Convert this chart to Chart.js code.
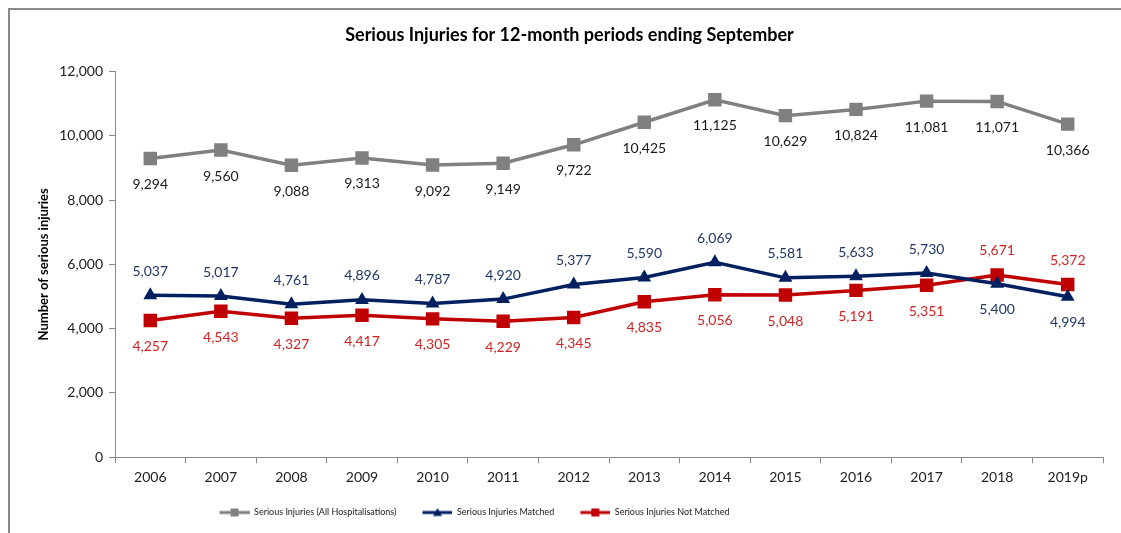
<!DOCTYPE html>
<html>
<head>
<meta charset="utf-8">
<script src="https://cdn.jsdelivr.net/npm/chart.js@4.4.1/dist/chart.umd.min.js"></script>
<style>
  html, body { margin: 0; padding: 0; background: #ffffff; }
  #wrap { position: relative; width: 1121px; height: 533px; overflow: hidden; }
  #frame { position: absolute; left: 8px; top: 8px; width: 1200px; height: 600px;
           border-top: 2px solid #8a8a8a; border-left: 2px solid #8a8a8a; pointer-events: none; }
  canvas { position: absolute; left: 0; top: 0; }
</style>
</head>
<body>
<div id="wrap">
  <canvas id="c" width="1121" height="533"></canvas>
  <div id="frame"></div>
</div>
<script>
const years = ['2006','2007','2008','2009','2010','2011','2012','2013','2014','2015','2016','2017','2018','2019p'];
const allHosp = [9294, 9560, 9088, 9313, 9092, 9149, 9722, 10425, 11125, 10629, 10824, 11081, 11071, 10366];
const matched = [5037, 5017, 4761, 4896, 4787, 4920, 5377, 5590, 6069, 5581, 5633, 5730, 5400, 4994];
const notMatched = [4257, 4543, 4327, 4417, 4305, 4229, 4345, 4835, 5056, 5048, 5191, 5351, 5671, 5372];
const yTicks = [0, 2000, 4000, 6000, 8000, 10000, 12000];

const FONT = 'Lato, Calibri, Carlito, "Open Sans", sans-serif';
const GRAY = '#808080', NAVY = '#002060', RED = '#c00000';
const LABEL_COLORS = ['#1a1a1a', '#203864', '#d02424'];

function legendIcon(color, shape) {
  const cv = document.createElement('canvas');
  cv.width = 40; cv.height = 10;
  const g = cv.getContext('2d');
  g.strokeStyle = color; g.lineWidth = 3;
  g.beginPath(); g.moveTo(10, 5); g.lineTo(40, 5); g.stroke();
  g.fillStyle = color;
  if (shape === 'rect') { g.fillRect(21, 1, 8, 8); }
  else { g.beginPath(); g.moveTo(25, 0.5); g.lineTo(29.5, 8.5); g.lineTo(20.5, 8.5); g.closePath(); g.fill(); }
  return cv;
}

const fmt = v => v.toLocaleString('en-US');

const labelPlugin = {
  id: 'pointLabels',
  afterDatasetsDraw(chart) {
    const ctx = chart.ctx;
    ctx.save();
    ctx.font = '14px ' + FONT;
    ctx.textAlign = 'center';
    ctx.textBaseline = 'middle';
    chart.data.datasets.forEach((ds, di) => {
      const meta = chart.getDatasetMeta(di);
      meta.data.forEach((pt, i) => {
        let below;
        if (di === 0) below = true;
        else if (di === 1) below = matched[i] < notMatched[i];
        else below = notMatched[i] <= matched[i];
        const off = below ? 26 : -24;
        ctx.fillStyle = LABEL_COLORS[di];
        ctx.fillText(fmt(ds.data[i]), pt.x, pt.y + off);
      });
    });
    ctx.restore();
  }
};

const legendShift = {
  id: 'legendShift',
  afterLayout(chart) {
    const l = chart.legend;
    if (l) { l.left -= 100; l.right -= 100; }
  }
};

new Chart(document.getElementById('c'), {
  type: 'line',
  data: {
    labels: years,
    datasets: [
      { label: 'Serious Injuries (All Hospitalisations)', data: allHosp, borderColor: GRAY, backgroundColor: GRAY,
        borderWidth: 3.5, pointStyle: 'rect', pointRadius: 9.5, pointBorderWidth: 0, pointBackgroundColor: GRAY, tension: 0 },
      { label: 'Serious Injuries Matched', data: matched, borderColor: NAVY, backgroundColor: NAVY,
        borderWidth: 3.5, pointStyle: 'triangle', pointRadius: 8, pointBorderWidth: 0, pointBackgroundColor: NAVY, tension: 0 },
      { label: 'Serious Injuries Not Matched', data: notMatched, borderColor: RED, backgroundColor: RED,
        borderWidth: 3.5, pointStyle: 'rect', pointRadius: 9.5, pointBorderWidth: 0, pointBackgroundColor: RED, tension: 0 }
    ]
  },
  options: {
    responsive: false,
    animation: false,
    devicePixelRatio: 1,
    layout: { padding: { left: 36, right: 18, top: 8, bottom: 6 } },
    plugins: {
      tooltip: { enabled: false },
      title: {
        display: true,
        text: 'Serious Injuries for 12-month periods ending September',
        color: '#000000',
        font: { family: FONT, size: 18, weight: 'bold' },
        padding: { top: 16, bottom: 26 }
      },
      legend: {
        position: 'bottom',
        labels: {
          color: '#222222',
          font: { family: FONT, size: 9 },
          usePointStyle: true,
          pointStyleWidth: 40,
          boxHeight: 10,
          padding: 16,
          generateLabels(chart) {
            const shapes = ['rect', 'triangle', 'rect'];
            return chart.data.datasets.map((ds, i) => ({
              text: ds.label, datasetIndex: i, fillStyle: ds.borderColor, strokeStyle: ds.borderColor,
              lineWidth: 0, hidden: false, pointStyle: legendIcon(ds.borderColor, shapes[i]), fontColor: '#222222'
            }));
          }
        }
      }
    },
    scales: {
      x: {
        offset: true,
        grid: { display: true, offset: true, drawOnChartArea: false, drawTicks: true, tickLength: 6, color: '#868686' },
        border: { color: '#868686', width: 1 },
        ticks: { color: '#222222', font: { family: FONT, size: 14 }, padding: 6 }
      },
      y: {
        min: 0, max: 12000,
        afterBuildTicks(scale) { scale.ticks = yTicks.map(v => ({ value: v })); },
        grid: { display: true, drawOnChartArea: false, drawTicks: true, tickLength: 6, color: '#868686' },
        border: { color: '#868686', width: 1 },
        ticks: { color: '#222222', font: { family: FONT, size: 14 }, padding: 6, callback: v => fmt(v) },
        title: { display: true, text: 'Number of serious injuries', color: '#000000',
                 font: { family: FONT, size: 13, weight: 'bold' }, padding: { top: 0, bottom: 10 } },
        afterFit(scale) { scale.width = 79; }
      }
    }
  },
  plugins: [labelPlugin, legendShift]
});
</script>
</body>
</html>
